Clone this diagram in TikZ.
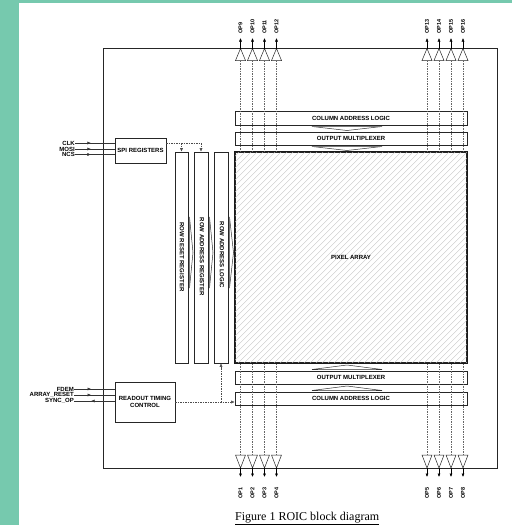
\documentclass[tikz,border=0pt]{standalone}
\usepackage{fontspec}
\setmainfont{Liberation Serif}
\newfontfamily\labfont{Liberation Sans}
\usetikzlibrary{arrows.meta,decorations.markings,calc}
\definecolor{bggreen}{RGB}{118,201,174}
\begin{document}
\begin{tikzpicture}[x=1pt,y=-1pt,
  blk/.style={draw=black!85, line width=0.6pt, inner sep=0pt},
  txt/.style={inner sep=0pt, font=\labfont\bfseries\fontsize{6}{7.5}\selectfont, align=center},
  oplbl/.style={inner sep=0pt, font=\labfont\bfseries\fontsize{5.5}{5.5}\selectfont, rotate=90},
  tip/.style={-{Latex[length=3.5pt,width=3pt]}},
  vline/.style={black!60, line width=0.5pt, dash pattern=on 1.5pt off 1pt},
  ctl/.style={black!70, line width=0.5pt, dash pattern=on 1.5pt off 1pt},
  inl/.style={black!80, line width=0.5pt},
  midarr/.style={postaction={decorate}, decoration={markings, mark=at position #1 with {\arrow{Latex[length=3.5pt,width=3pt]}}}},
  flat/.style={black!80, line width=0.5pt},
  buf/.style={black!85, line width=0.5pt, fill=white}
]
\useasboundingbox (0,0) rectangle (512,525);
\fill[white] (0,0) rectangle (512,525);
\fill[bggreen] (0,0) rectangle (19,525);
\fill[bggreen] (0,0) rectangle (512,3);

% outer box
\node[blk, line width=0.8pt, minimum width=394pt, minimum height=420pt] (outer) at (300,258) {};

% pixel array
\node[blk, line width=1.4pt, minimum width=232pt, minimum height=211pt] (pa) at (351,257.5) {};
\begin{scope}
  \clip (pa.north west) rectangle (pa.south east);
  \foreach \t in {-224,-218,...,470} \draw[gray!45, line width=0.35pt] (\t,363) -- ++(211,-211);
\end{scope}
\draw[black!90, line width=1.4pt] (pa.north west) rectangle (pa.south east);
\node[txt] (patxt) at (pa.center) {PIXEL ARRAY};

% column blocks
\node[blk, minimum width=232pt, minimum height=14pt] (calt) at (351,118) {};
\node[txt] at (calt.center) {COLUMN ADDRESS LOGIC};
\node[blk, minimum width=232pt, minimum height=13pt] (omt) at (351,138.5) {};
\node[txt] at (omt.center) {OUTPUT MULTIPLEXER};
\node[blk, minimum width=232pt, minimum height=13pt] (omb) at (351,377.5) {};
\node[txt] at (omb.center) {OUTPUT MULTIPLEXER};
\node[blk, minimum width=232pt, minimum height=13pt] (calb) at (351,398.5) {};
\node[txt] at (calb.center) {COLUMN ADDRESS LOGIC};

% row blocks
\node[blk, minimum width=13pt, minimum height=211pt] (rrr) at (181.5,257.5) {};
\node[txt, rotate=-90] (rrrt) at (182,257) {ROW RESET REGISTER};
\node[blk, minimum width=14pt, minimum height=211pt] (rar) at (201,257.5) {};
\node[txt, rotate=-90] (rart) at (202,257) {ROW ADDRESS REGISTER};
\node[blk, minimum width=14pt, minimum height=211pt] (ral) at (221,257.5) {};
\node[txt, rotate=-90] (ralt) at (222,255) {ROW ADDRESS LOGIC};

% flat data-flow arrows
\draw[flat] (312,126.5) -- (382,126.5) -- (347,130.5) -- cycle;
\draw[flat] (312,146.5) -- (382,146.5) -- (347,150.5) -- cycle;
\draw[flat] (312,369.5) -- (382,369.5) -- (347,365) -- cycle;
\draw[flat] (312,390.5) -- (382,390.5) -- (347,386) -- cycle;
\draw[flat] (189.5,217) -- (189.5,288) -- (193,252.5) -- cycle;
\draw[flat] (209.5,217) -- (209.5,288) -- (213,252.5) -- cycle;
\draw[flat] (229.5,217) -- (229.5,288) -- (233.5,252.5) -- cycle;

% SPI registers
\node[blk, minimum width=51pt, minimum height=25pt] (spi) at (140.5,150.5) {};
\node[txt] at (spi.center) {SPI REGISTERS};
\node[txt, anchor=east] (clk) at (75,143) {CLK};
\node[txt, anchor=east] (mosi) at (75,149) {MOSI};
\node[txt, anchor=east] (ncs) at (75,154.5) {NCS};
\draw[inl, midarr=0.4] (clk.east) -- (clk.east -| spi.west);
\draw[inl, midarr=0.4] (mosi.east) -- (mosi.east -| spi.west);
\draw[inl, midarr=0.4] (ncs.east) -- (ncs.east -| spi.west);

\coordinate (spiout) at (166,143);
\draw[ctl] (spiout) -- (spiout -| rar.north);
\draw[ctl, tip] (spiout -| rar.north) -- (rar.north);
\draw[ctl, tip] (spiout -| rrr.north) -- (rrr.north);

% readout timing control
\node[blk, minimum width=60pt, minimum height=40pt] (rtc) at (145,402) {};
\node[txt] at (rtc.center) {READOUT TIMING\\CONTROL};
\node[txt, anchor=east] (fdem) at (74,389) {FDEM};
\node[txt, anchor=east] (arst) at (74,395) {ARRAY\_RESET};
\node[txt, anchor=east] (sync) at (74,401) {SYNC\_OP};
\draw[inl, midarr=0.42] (fdem.east) -- (fdem.east -| rtc.west);
\draw[inl, midarr=0.42] (arst.east) -- (arst.east -| rtc.west);
\draw[inl, midarr=0.58] (sync.east -| rtc.west) -- (sync.east);

\draw[ctl, tip] (rtc.east) -- (rtc.east -| calb.west);
\draw[ctl, tip] (rtc.east -| ral.south) -- (ral.south);

% top outputs
\foreach \x/\n in {240.5/9,252.5/10,264.5/11,276.5/12,427/13,439/14,451/15,463/16} {
  \coordinate (ta\n) at (\x,48.5);
  \coordinate (tb\n) at (\x,60.5);
  \coordinate (te\n) at (\x,38);
  \draw[vline] (tb\n) -- (tb\n |- pa.north);
  \draw[buf] (ta\n) -- ($(tb\n)+(-5,0)$) -- ($(tb\n)+(5,0)$) -- cycle;
  \draw[black, line width=0.5pt, tip] (ta\n) -- (te\n);
  \node[oplbl, anchor=west] (top\n) at (\x,34) {OP\n};
}
% bottom outputs
\foreach \x/\n in {240.5/1,252.5/2,264.5/3,276.5/4,427/5,439/6,451/7,463/8} {
  \coordinate (ba\n) at (\x,468);
  \coordinate (bb\n) at (\x,455);
  \coordinate (be\n) at (\x,477);
  \draw[vline] (bb\n) -- (bb\n |- pa.south);
  \draw[buf] (ba\n) -- ($(bb\n)+(-5,0)$) -- ($(bb\n)+(5,0)$) -- cycle;
  \draw[black, line width=0.5pt, tip] (ba\n) -- (be\n);
  \node[oplbl, anchor=east] (bop\n) at (\x,487.5) {OP\n};
}

% caption
\node[anchor=base west, inner sep=0pt, font=\fontsize{12}{12}\selectfont] (cap) at (235,520) {\underline{Figure 1 ROIC block diagram}};
\end{tikzpicture}
\end{document}
